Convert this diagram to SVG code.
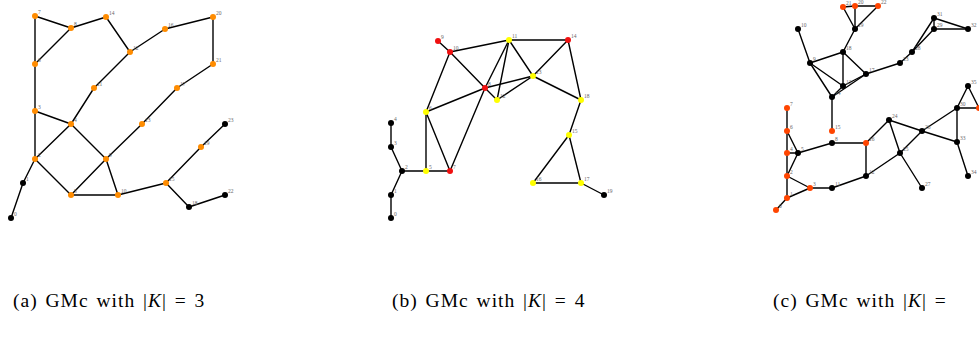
<svg xmlns="http://www.w3.org/2000/svg" width="979" height="338" viewBox="0 0 979 338">
<style>
.e line{stroke:#000;stroke-width:1.4;stroke-linecap:round}
.o{fill:#ff8c00}.k{fill:#000}.r{fill:#f01010}.y{fill:#ffff00}.q{fill:#ff4500}
text.l{font-family:"Liberation Serif",serif;font-size:5.5px;fill:#666}
text.c{font-family:"Liberation Serif","DejaVu Serif",serif;font-size:19.5px;fill:#000;letter-spacing:1px;word-spacing:2px}
</style>
<rect width="979" height="338" fill="#fff"/>
<g id="connectors" class="e">
<!-- panel a -->
<line x1="35" y1="16" x2="71" y2="28"/><line x1="71" y1="28" x2="106" y2="17"/><line x1="35" y1="16" x2="35" y2="64"/><line x1="71" y1="28" x2="35" y2="64"/><line x1="35" y1="64" x2="35" y2="111"/><line x1="106" y1="17" x2="130" y2="52"/><line x1="130" y1="52" x2="165" y2="29"/><line x1="165" y1="29" x2="213" y2="17"/><line x1="213" y1="17" x2="213" y2="64"/><line x1="213" y1="64" x2="177" y2="88"/><line x1="177" y1="88" x2="142" y2="124"/><line x1="130" y1="52" x2="94" y2="88"/><line x1="94" y1="88" x2="71" y2="124"/><line x1="35" y1="111" x2="71" y2="124"/><line x1="71" y1="124" x2="35" y2="159"/><line x1="35" y1="111" x2="35" y2="159"/><line x1="35" y1="159" x2="23" y2="183"/><line x1="23" y1="183" x2="11" y2="218"/><line x1="35" y1="159" x2="71" y2="195"/><line x1="71" y1="195" x2="106" y2="159"/><line x1="71" y1="195" x2="118" y2="195"/><line x1="106" y1="159" x2="118" y2="195"/><line x1="106" y1="159" x2="142" y2="124"/><line x1="118" y1="195" x2="166" y2="183"/><line x1="166" y1="183" x2="201" y2="147"/><line x1="201" y1="147" x2="225" y2="124"/><line x1="166" y1="183" x2="189" y2="207"/><line x1="189" y1="207" x2="225" y2="195"/><line x1="71" y1="124" x2="106" y2="159"/>
<!-- panel b -->
<line x1="391" y1="218" x2="391" y2="195"/><line x1="391" y1="195" x2="402" y2="171"/><line x1="402" y1="171" x2="391" y2="147"/><line x1="391" y1="147" x2="391" y2="123"/><line x1="402" y1="171" x2="426" y2="171"/><line x1="426" y1="171" x2="450" y2="171"/><line x1="426" y1="171" x2="426" y2="112"/><line x1="426" y1="112" x2="450" y2="171"/><line x1="438" y1="41" x2="450" y2="52"/><line x1="450" y1="52" x2="509" y2="40"/><line x1="450" y1="52" x2="426" y2="112"/><line x1="450" y1="52" x2="485" y2="88"/><line x1="426" y1="112" x2="485" y2="88"/><line x1="485" y1="88" x2="450" y2="171"/><line x1="485" y1="88" x2="497" y2="100"/><line x1="485" y1="88" x2="509" y2="40"/><line x1="485" y1="88" x2="533" y2="76"/><line x1="509" y1="40" x2="497" y2="100"/><line x1="509" y1="40" x2="533" y2="76"/><line x1="497" y1="100" x2="533" y2="76"/><line x1="509" y1="40" x2="568" y2="40"/><line x1="533" y1="76" x2="568" y2="40"/><line x1="533" y1="76" x2="581" y2="100"/><line x1="568" y1="40" x2="581" y2="100"/><line x1="581" y1="100" x2="569" y2="135"/><line x1="569" y1="135" x2="533" y2="183"/><line x1="569" y1="135" x2="581" y2="183"/><line x1="533" y1="183" x2="581" y2="183"/><line x1="581" y1="183" x2="604" y2="195"/>
<!-- panel c -->
<line x1="776" y1="210" x2="787" y2="198"/><line x1="787" y1="198" x2="787" y2="108"/><line x1="787" y1="131" x2="798" y2="153"/><line x1="787" y1="153" x2="798" y2="153"/><line x1="798" y1="153" x2="787" y2="176"/><line x1="798" y1="153" x2="832" y2="143"/><line x1="787" y1="176" x2="810" y2="188"/><line x1="787" y1="198" x2="810" y2="188"/><line x1="810" y1="188" x2="832" y2="188"/><line x1="832" y1="188" x2="866" y2="176"/><line x1="866" y1="176" x2="866" y2="143"/><line x1="866" y1="143" x2="832" y2="143"/><line x1="866" y1="143" x2="889" y2="120"/><line x1="889" y1="120" x2="900" y2="153"/><line x1="889" y1="120" x2="922" y2="131"/><line x1="922" y1="131" x2="957" y2="142"/><line x1="866" y1="176" x2="900" y2="153"/><line x1="900" y1="153" x2="922" y2="131"/><line x1="900" y1="153" x2="922" y2="188"/><line x1="922" y1="131" x2="957" y2="108"/><line x1="957" y1="108" x2="957" y2="142"/><line x1="957" y1="142" x2="968" y2="176"/><line x1="957" y1="108" x2="968" y2="86"/><line x1="968" y1="86" x2="979" y2="108"/><line x1="957" y1="108" x2="979" y2="108"/><line x1="832" y1="97" x2="832" y2="131"/><line x1="810" y1="63" x2="832" y2="97"/><line x1="810" y1="63" x2="843" y2="86"/><line x1="810" y1="63" x2="843" y2="52"/><line x1="810" y1="63" x2="798" y2="29"/><line x1="843" y1="52" x2="843" y2="86"/><line x1="843" y1="52" x2="866" y2="74"/><line x1="843" y1="52" x2="855" y2="29"/><line x1="843" y1="86" x2="866" y2="74"/><line x1="832" y1="97" x2="866" y2="74"/><line x1="832" y1="97" x2="843" y2="86"/><line x1="855" y1="29" x2="855" y2="6"/><line x1="855" y1="29" x2="843" y2="7"/><line x1="855" y1="29" x2="878" y2="6"/><line x1="843" y1="7" x2="855" y2="6"/><line x1="855" y1="6" x2="878" y2="6"/><line x1="866" y1="74" x2="900" y2="63"/><line x1="900" y1="63" x2="912" y2="52"/><line x1="912" y1="52" x2="934" y2="18"/><line x1="912" y1="52" x2="934" y2="29"/><line x1="934" y1="29" x2="934" y2="18"/><line x1="934" y1="18" x2="968" y2="29"/><line x1="934" y1="29" x2="968" y2="29"/>
</g>
<g id="panel-a">
<g id="a0"><circle cx="11" cy="218" r="3" class="k"/><text class="l" x="14" y="216">0</text></g>
<g id="a1"><circle cx="23" cy="183" r="3" class="k"/><text class="l" x="26" y="181">1</text></g>
<g id="a2"><circle cx="35" cy="159" r="3" class="o"/><text class="l" x="38" y="157">2</text></g>
<g id="a3"><circle cx="35" cy="111" r="3" class="o"/><text class="l" x="38" y="109">3</text></g>
<g id="a4"><circle cx="71" cy="124" r="3" class="o"/><text class="l" x="74" y="122">4</text></g>
<g id="a5"><circle cx="71" cy="195" r="3" class="o"/><text class="l" x="74" y="193">5</text></g>
<g id="a6"><circle cx="35" cy="64" r="3" class="o"/><text class="l" x="38" y="62">6</text></g>
<g id="a7"><circle cx="35" cy="16" r="3" class="o"/><text class="l" x="38" y="14">7</text></g>
<g id="a8"><circle cx="71" cy="28" r="3" class="o"/><text class="l" x="74" y="26">8</text></g>
<g id="a9"><circle cx="106" cy="159" r="3" class="o"/><text class="l" x="109" y="157">9</text></g>
<g id="a10"><circle cx="118" cy="195" r="3" class="o"/><text class="l" x="121" y="193">10</text></g>
<g id="a11"><circle cx="94" cy="88" r="3" class="o"/><text class="l" x="97" y="86">11</text></g>
<g id="a12"><circle cx="130" cy="52" r="3" class="o"/><text class="l" x="133" y="50">12</text></g>
<g id="a13"><circle cx="142" cy="124" r="3" class="o"/><text class="l" x="145" y="122">13</text></g>
<g id="a14"><circle cx="106" cy="17" r="3" class="o"/><text class="l" x="109" y="15">14</text></g>
<g id="a15"><circle cx="166" cy="183" r="3" class="o"/><text class="l" x="169" y="181">15</text></g>
<g id="a16"><circle cx="165" cy="29" r="3" class="o"/><text class="l" x="168" y="27">16</text></g>
<g id="a17"><circle cx="177" cy="88" r="3" class="o"/><text class="l" x="180" y="86">17</text></g>
<g id="a18"><circle cx="189" cy="207" r="3" class="k"/><text class="l" x="192" y="205">18</text></g>
<g id="a19"><circle cx="201" cy="147" r="3" class="o"/><text class="l" x="204" y="145">19</text></g>
<g id="a20"><circle cx="213" cy="17" r="3" class="o"/><text class="l" x="216" y="15">20</text></g>
<g id="a21"><circle cx="213" cy="64" r="3" class="o"/><text class="l" x="216" y="62">21</text></g>
<g id="a22"><circle cx="225" cy="195" r="3" class="k"/><text class="l" x="228" y="193">22</text></g>
<g id="a23"><circle cx="225" cy="124" r="3" class="k"/><text class="l" x="228" y="122">23</text></g>
</g>
<g id="panel-b">
<g id="b0"><circle cx="391" cy="218" r="3" class="k"/><text class="l" x="394" y="216">0</text></g>
<g id="b1"><circle cx="391" cy="195" r="3" class="k"/><text class="l" x="394" y="193">1</text></g>
<g id="b2"><circle cx="402" cy="171" r="3" class="k"/><text class="l" x="405" y="169">2</text></g>
<g id="b3"><circle cx="391" cy="147" r="3" class="k"/><text class="l" x="394" y="145">3</text></g>
<g id="b4"><circle cx="391" cy="123" r="3" class="k"/><text class="l" x="394" y="121">4</text></g>
<g id="b5"><circle cx="426" cy="171" r="3" class="y"/><text class="l" x="429" y="169">5</text></g>
<g id="b6"><circle cx="426" cy="112" r="3" class="y"/><text class="l" x="429" y="110">6</text></g>
<g id="b7"><circle cx="450" cy="171" r="3" class="r"/><text class="l" x="453" y="169">7</text></g>
<g id="b8"><circle cx="485" cy="88" r="3" class="r"/><text class="l" x="488" y="86">8</text></g>
<g id="b9"><circle cx="438" cy="41" r="3" class="r"/><text class="l" x="441" y="39">9</text></g>
<g id="b10"><circle cx="450" cy="52" r="3" class="r"/><text class="l" x="453" y="50">10</text></g>
<g id="b11"><circle cx="509" cy="40" r="3" class="y"/><text class="l" x="512" y="38">11</text></g>
<g id="b12"><circle cx="497" cy="100" r="3" class="y"/><text class="l" x="500" y="98">12</text></g>
<g id="b13"><circle cx="533" cy="76" r="3" class="y"/><text class="l" x="536" y="74">13</text></g>
<g id="b14"><circle cx="568" cy="40" r="3" class="r"/><text class="l" x="571" y="38">14</text></g>
<g id="b15"><circle cx="569" cy="135" r="3" class="y"/><text class="l" x="572" y="133">15</text></g>
<g id="b16"><circle cx="533" cy="183" r="3" class="y"/><text class="l" x="536" y="181">16</text></g>
<g id="b17"><circle cx="581" cy="183" r="3" class="y"/><text class="l" x="584" y="181">17</text></g>
<g id="b18"><circle cx="581" cy="100" r="3" class="y"/><text class="l" x="584" y="98">18</text></g>
<g id="b19"><circle cx="604" cy="195" r="3" class="k"/><text class="l" x="607" y="193">19</text></g>
</g>
<g id="panel-c">
<g id="c0"><circle cx="776" cy="210" r="3" class="q"/><text class="l" x="779" y="208">0</text></g>
<g id="c1"><circle cx="787" cy="198" r="3" class="q"/><text class="l" x="790" y="196">1</text></g>
<g id="c2"><circle cx="787" cy="176" r="3" class="q"/><text class="l" x="790" y="174">2</text></g>
<g id="c3"><circle cx="810" cy="188" r="3" class="q"/><text class="l" x="813" y="186">3</text></g>
<g id="c4"><circle cx="787" cy="153" r="3" class="q"/><text class="l" x="790" y="151">4</text></g>
<g id="c5"><circle cx="798" cy="153" r="3" class="k"/><text class="l" x="801" y="151">5</text></g>
<g id="c6"><circle cx="787" cy="131" r="3" class="q"/><text class="l" x="790" y="129">6</text></g>
<g id="c7"><circle cx="787" cy="108" r="3" class="q"/><text class="l" x="790" y="106">7</text></g>
<g id="c8"><circle cx="832" cy="143" r="3" class="k"/><text class="l" x="835" y="141">8</text></g>
<g id="c9"><circle cx="810" cy="63" r="3" class="k"/><text class="l" x="813" y="61">9</text></g>
<g id="c10"><circle cx="798" cy="29" r="3" class="k"/><text class="l" x="801" y="27">10</text></g>
<g id="c11"><circle cx="832" cy="188" r="3" class="k"/><text class="l" x="835" y="186">11</text></g>
<g id="c12"><circle cx="866" cy="176" r="3" class="k"/><text class="l" x="869" y="174">12</text></g>
<g id="c13"><circle cx="843" cy="86" r="3" class="k"/><text class="l" x="846" y="84">13</text></g>
<g id="c14"><circle cx="832" cy="97" r="3" class="k"/><text class="l" x="835" y="95">14</text></g>
<g id="c15"><circle cx="832" cy="131" r="3" class="q"/><text class="l" x="835" y="129">15</text></g>
<g id="c16"><circle cx="866" cy="143" r="3" class="q"/><text class="l" x="869" y="141">16</text></g>
<g id="c17"><circle cx="866" cy="74" r="3" class="k"/><text class="l" x="869" y="72">17</text></g>
<g id="c18"><circle cx="843" cy="52" r="3" class="k"/><text class="l" x="846" y="50">18</text></g>
<g id="c19"><circle cx="855" cy="29" r="3" class="k"/><text class="l" x="858" y="27">19</text></g>
<g id="c20"><circle cx="855" cy="6" r="3" class="q"/><text class="l" x="858" y="4">20</text></g>
<g id="c21"><circle cx="843" cy="7" r="3" class="q"/><text class="l" x="846" y="5">21</text></g>
<g id="c22"><circle cx="878" cy="6" r="3" class="q"/><text class="l" x="881" y="4">22</text></g>
<g id="c23"><circle cx="900" cy="63" r="3" class="k"/><text class="l" x="903" y="61">23</text></g>
<g id="c24"><circle cx="889" cy="120" r="3" class="k"/><text class="l" x="892" y="118">24</text></g>
<g id="c25"><circle cx="900" cy="153" r="3" class="k"/><text class="l" x="903" y="151">25</text></g>
<g id="c26"><circle cx="922" cy="131" r="3" class="k"/><text class="l" x="925" y="129">26</text></g>
<g id="c27"><circle cx="922" cy="188" r="3" class="k"/><text class="l" x="925" y="186">27</text></g>
<g id="c28"><circle cx="912" cy="52" r="3" class="k"/><text class="l" x="915" y="50">28</text></g>
<g id="c29"><circle cx="934" cy="29" r="3" class="k"/><text class="l" x="937" y="27">29</text></g>
<g id="c30"><circle cx="957" cy="108" r="3" class="k"/><text class="l" x="960" y="106">30</text></g>
<g id="c31"><circle cx="934" cy="18" r="3" class="k"/><text class="l" x="937" y="16">31</text></g>
<g id="c32"><circle cx="968" cy="29" r="3" class="k"/><text class="l" x="971" y="27">32</text></g>
<g id="c33"><circle cx="957" cy="142" r="3" class="k"/><text class="l" x="960" y="140">33</text></g>
<g id="c34"><circle cx="968" cy="176" r="3" class="k"/><text class="l" x="971" y="174">34</text></g>
<g id="c35"><circle cx="968" cy="86" r="3" class="k"/><text class="l" x="971" y="84">35</text></g>
<g id="c36"><circle cx="979" cy="108" r="3" class="q"/></g>
</g>
<g id="captions">
<text class="c" x="13" y="307">(a) GMc with |<tspan font-style="italic">K</tspan>| = 3</text>
<text class="c" x="392" y="307">(b) GMc with |<tspan font-style="italic">K</tspan>| = 4</text>
<text class="c" x="773" y="307">(c) GMc with |<tspan font-style="italic">K</tspan>| =</text>
</g>
</svg>
